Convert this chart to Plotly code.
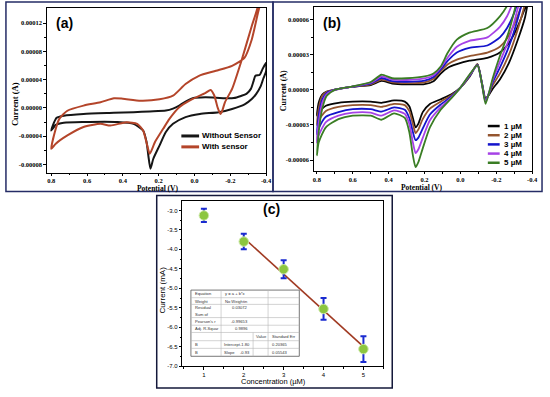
import numpy as np
import plotly.graph_objects as go

W, H = 550, 397
def PX(x): return x / W
def PY(y): return 1 - y / H

SERIF = "Liberation Serif"
SANS = "Liberation Sans"

# ---------------- Panel (a) data (current in µA) ----------------
a_names = ["Without Sensor", "With sensor"]
a_colors = ["#161616", "#B4452A"]

a_wo_fwd_V = [0.80, 0.79, 0.77, 0.73, 0.62, 0.45, 0.34, 0.25, 0.16, 0.12, 0.085, 0.05, 0.01, -0.06,
              -0.12, -0.17, -0.22, -0.26, -0.29, -0.315, -0.33, -0.34, -0.365, -0.38, -0.40]
a_wo_fwd_I = [-32, -24, -14, -11, -8.5, -7, -6, -5, -3.8, -1, 3.3, 9, 13.7, 15,
              14.5, 13.7, 14, 17, 20, 27, 38, 45.5, 47, 55, 64]
a_wo_rev_V = [-0.40, -0.385, -0.37, -0.345, -0.32, -0.28, -0.21, -0.135, -0.03, 0.05, 0.12, 0.16,
              0.195, 0.23, 0.246, 0.258, 0.268, 0.287, 0.34, 0.43, 0.62, 0.73, 0.775, 0.80]
a_wo_rev_I = [52, 42, 31, 20, 12.5, 5, -1.4, -6, -8.5, -13, -22.5, -34,
              -53, -72, -86, -67, -48, -32, -22.5, -20, -20, -21, -24, -32]

a_ws_fwd_V = [0.80, 0.78, 0.755, 0.71, 0.62, 0.525, 0.45, 0.40, 0.30, 0.195, 0.12, 0.05, -0.025,
              -0.12, -0.21, -0.28, -0.32, -0.355, -0.37, -0.40]
a_ws_fwd_I = [-58, -34, -15.5, -4, 3.3, 8, 13.7, 13, 10.3, 12.2, 17.3, 33.8, 45.5,
              52.6, 59.6, 71.4, 97, 135, 150, 180]
a_ws_rev_V = [-0.40, -0.35, -0.32, -0.265, -0.21, -0.17, -0.155, -0.145, -0.13, -0.11, -0.09, -0.06,
              0.01, 0.085, 0.14, 0.175, 0.22, 0.25, 0.264, 0.287, 0.32, 0.38, 0.47, 0.525, 0.62,
              0.71, 0.775, 0.80]
a_ws_rev_I = [200, 140, 116, 69, 27, 8, -4, -8.5, 0, 18, 25.5, 21,
              12.7, 1, -15.5, -29.6, -48, -65, -53, -32, -22.5, -20.2, -25, -22.5, -27,
              -39, -50.7, -58]

# ---------------- Panel (b) data (current in µA) ----------------
b_names = ["1 µM", "2 µM", "3 µM", "4 µM", "5 µM"]
b_colors = ["#050505", "#94552F", "#1414CC", "#A642E6", "#3A7D24"]

b_fwd_V = [0.80, 0.79, 0.77, 0.745, 0.70, 0.60, 0.50, 0.44, 0.38, 0.30, 0.20, 0.15, 0.11, 0.07,
           0.02, -0.05, -0.15, -0.22, -0.26, -0.30, -0.34, -0.40]
b1_fwd_I = [-22, -11, -4, -1.5, 0.3, 2.8, 4.2, 7.7, 5.5, 4.8, 5.0, 7.5, 14, 19, 22, 25, 27.5, 32, 38, 48, 62, 88]
b2_fwd_I = [-30, -16, -5, -1.5, 0.3, 2.8, 4.8, 8.8, 6.5, 5.8, 6.5, 9.5, 16, 22, 26, 29, 32, 37, 44, 56, 72, 100]
b3_fwd_I = [-38, -22, -8, -2.5, 0.2, 2.8, 5.5, 10.2, 7.5, 7, 8, 11, 17.5, 25, 32, 36, 38, 45, 53, 66, 84, 112]
b4_fwd_I = [-45, -28, -11, -3.5, 0.1, 2.9, 6.2, 11.5, 8.8, 8.5, 9.8, 12.5, 19, 28, 37, 42, 45, 54, 63, 78, 96, 125]
b5_fwd_I = [-56, -36, -16, -5, 0, 3, 6.8, 13, 10, 10, 11.5, 14, 20, 32, 43, 49, 53, 63, 72, 88, 108, 138]

b_rev_V = [-0.40, -0.36, -0.32, -0.27, -0.22, -0.18, -0.16, -0.14, -0.12, -0.095, -0.05, 0.0, 0.05,
           0.11, 0.17, 0.21, 0.235, 0.25, 0.265, 0.285, 0.31, 0.37, 0.44, 0.50, 0.60, 0.68, 0.75,
           0.79, 0.80]
b1_rev_I = [95, 62, 43, 23, 9, 1, -4, -7, 6, 22, 11, 2, -3.7, -8, -12, -19, -29, -32, -24, -14, -10,
            -9, -11, -10, -10, -11, -13.5, -19, -22]
b2_rev_I = [108, 74, 52, 30, 14, 4, -3, -8.5, 5.5, 22, 11.5, 2, -4.5, -10, -16, -25, -34, -37, -29,
            -18, -13, -12, -14.5, -13, -13, -14.5, -18, -26, -30]
b3_rev_I = [122, 86, 61, 37, 19, 6.5, -2.5, -9.5, 5.5, 21.5, 12, 2, -5.5, -12.5, -21, -33, -41, -43,
            -36, -24, -17, -15, -18.5, -16.5, -16.5, -19, -23, -33, -38]
b4_rev_I = [136, 98, 70, 43, 24, 8.5, -2, -10.5, 5, 21, 12.5, 2, -6.3, -15, -26, -41, -51, -54,
            -45, -29, -20.5, -17.5, -22, -19.5, -19.5, -22, -27.5, -39, -45]
b5_rev_I = [150, 110, 80, 50, 29, 10, -2, -12, 5, 21, 13, 2, -7, -17, -32, -50, -62, -66, -56, -36,
            -24, -20, -25.5, -22, -22, -25, -32, -45, -56]

# ---------------- Panel (c) data ----------------
c_conc = [1, 2, 3, 4, 5]
c_current = [-3.13, -3.80, -4.51, -5.53, -6.56]
c_err = [0.17, 0.20, 0.23, 0.28, 0.33]
c_fit_idx = [1, 2, 3, 4]
c_table = [
    ("Equation", "y = a + b*x"),
    ("Weight", "No Weightin"),
    ("Residual", ""),
    ("Sum of", "0.03072"),
    ("Pearson's r", "-0.99653"),
    ("Adj. R-Squar", "0.9896"),
]
c_table_params = [("B", "Intercept", "-1.80", "0.20365"), ("B", "Slope", "-0.93", "0.05543")]

uA = 1e-6
fig = go.Figure()

for name, col, fv, fi, rv, ri in [
    (a_names[0], a_colors[0], a_wo_fwd_V, a_wo_fwd_I, a_wo_rev_V, a_wo_rev_I),
    (a_names[1], a_colors[1], a_ws_fwd_V, a_ws_fwd_I, a_ws_rev_V, a_ws_rev_I),
]:
    fig.add_trace(go.Scatter(x=fv + rv, y=[v * uA for v in fi + ri], mode="lines", name=name,
                             line=dict(color=col, width=2, shape="spline", smoothing=0.6),
                             xaxis="x", yaxis="y", showlegend=False))

b_fwd = [b1_fwd_I, b2_fwd_I, b3_fwd_I, b4_fwd_I, b5_fwd_I]
b_rev = [b1_rev_I, b2_rev_I, b3_rev_I, b4_rev_I, b5_rev_I]
for name, col, fi, ri in zip(b_names, b_colors, b_fwd, b_rev):
    fig.add_trace(go.Scatter(x=b_fwd_V + b_rev_V, y=[v * uA for v in fi + ri], mode="lines", name=name,
                             line=dict(color=col, width=1.8, shape="spline", smoothing=0.6),
                             xaxis="x2", yaxis="y2", showlegend=False))

# fit line (c)
fx = np.array([c_conc[i] for i in c_fit_idx], float)
fy = np.array([c_current[i] for i in c_fit_idx], float)
slope, intercept = np.polyfit(fx, fy, 1)
fig.add_trace(go.Scatter(x=[fx.min(), fx.max()], y=[intercept + slope * fx.min(), intercept + slope * fx.max()],
                         mode="lines", line=dict(color="#A03A22", width=1.6), xaxis="x3", yaxis="y3",
                         showlegend=False))
fig.add_trace(go.Scatter(x=c_conc, y=c_current, mode="markers",
                         marker=dict(color="#8CC63F", size=9.5, line=dict(color="#CDE9A8", width=1)),
                         error_y=dict(type="data", array=c_err, color="#1A2BD0", thickness=2, width=3),
                         xaxis="x3", yaxis="y3", showlegend=False))

def tfont(fam, size, bold=True):
    d = dict(family=fam, size=size, color="black")
    if bold:
        d["weight"] = "bold"
    return d

common = dict(showline=True, mirror=True, linecolor="black", linewidth=1, showgrid=False,
              zeroline=False, ticks="outside", ticklen=3, tickcolor="black", tickmode="array")

a_xt = [0.8, 0.6, 0.4, 0.2, 0.0, -0.2, -0.4]
a_yt = [-8e-5, -4e-5, 0, 4e-5, 8e-5, 1.2e-4]
b_yt = [-6e-5, -3e-5, 0, 3e-5, 6e-5]

def fmt_v(v):
    return ("%.1f" % v).replace("-0.0", "0.0")

def fmt_a(v):
    s = "%.5f" % v
    return "0.00000" if abs(v) < 1e-12 else s

minor_x = dict(tickvals=[0.7, 0.5, 0.3, 0.1, -0.1, -0.3], ticks="outside", ticklen=1.5, tickcolor="black")

fig.update_layout(
    width=W, height=H, margin=dict(l=0, r=0, t=0, b=0),
    paper_bgcolor="white", plot_bgcolor="white",
    xaxis=dict(common, domain=[PX(46), PX(268)], anchor="y", range=[0.822, -0.4], ticklen=2,
               tickvals=a_xt, ticktext=[fmt_v(v) for v in a_xt], tickfont=tfont(SERIF, 6.5),
               minor=minor_x),
    yaxis=dict(common, domain=[PY(174), PY(8)], anchor="x", range=[-9.17e-5, 1.416e-4],
               tickvals=a_yt, ticktext=[fmt_a(v) for v in a_yt], tickfont=tfont(SERIF, 6.5),
               minor=dict(tickvals=[-6e-5, -2e-5, 2e-5, 6e-5, 1e-4], ticks="outside", ticklen=2, tickcolor="black")),
    xaxis2=dict(common, domain=[PX(317), PX(538)], anchor="y2", range=[0.814, -0.4], ticklen=2,
                tickvals=a_xt, ticktext=[fmt_v(v) for v in a_xt], tickfont=tfont(SERIF, 6.5),
                minor=minor_x),
    yaxis2=dict(common, domain=[PY(172.7), PY(7)], anchor="x2", range=[-6.97e-5, 7.1e-5],
                tickvals=b_yt, ticktext=[fmt_a(v) for v in b_yt], tickfont=tfont(SERIF, 6.5),
                minor=dict(tickvals=[-4.5e-5, -1.5e-5, 1.5e-5, 4.5e-5], ticks="outside", ticklen=2, tickcolor="black")),
    xaxis3=dict(common, domain=[PX(183), PX(387)], anchor="y3", range=[0.46, 5.5], ticklen=2.5,
                tickvals=c_conc, ticktext=[str(v) for v in c_conc], tickfont=tfont(SANS, 6, False),
                minor=dict(tickvals=[0.5, 1.5, 2.5, 3.5, 4.5, 5.5], ticks="outside", ticklen=1.5, tickcolor="black")),
    yaxis3=dict(common, domain=[PY(369), PY(203)], anchor="x3", range=[-7.0, -2.77], ticklen=2.5,
                tickvals=list(np.arange(-7.0, -2.9, 0.5)),
                ticktext=["%.1f" % v for v in np.arange(-7.0, -2.9, 0.5)], tickfont=tfont(SANS, 6, False),
                minor=dict(tickvals=list(np.arange(-6.75, -2.8, 0.5)), ticks="outside", ticklen=1.5, tickcolor="black")),
)

shapes = []
ann = []
navy = "#252C66"
# panel frames
shapes.append(dict(type="rect", xref="paper", yref="paper", x0=PX(4), x1=PX(275), y0=PY(193), y1=PY(2),
                   line=dict(color=navy, width=1.5)))
shapes.append(dict(type="rect", xref="paper", yref="paper", x0=PX(275), x1=PX(548), y0=PY(193), y1=PY(2),
                   line=dict(color=navy, width=1.5)))
shapes.append(dict(type="rect", xref="paper", yref="paper", x0=PX(157), x1=PX(396), y0=PY(391), y1=PY(197),
                   line=dict(color="#14183A", width=1.5)))

def text(t, x, y, font, xanchor="center", yanchor="middle", angle=0):
    ann.append(dict(text=t, x=PX(x), y=PY(y), xref="paper", yref="paper", showarrow=False,
                    xanchor=xanchor, yanchor=yanchor, textangle=angle, font=font))

# panel labels
text("(a)", 63, 23, tfont(SANS, 14))
text("(b)", 335, 23, tfont(SANS, 14))
text("(c)", 273, 211, tfont(SANS, 14))
# axis titles
text("Current (A)", 13, 105, tfont(SERIF, 8.5), angle=-90)
text("Potential (V)", 158, 189.5, tfont(SERIF, 7.5))
text("Current (A)", 285, 91, tfont(SERIF, 8), angle=-90)
text("Potential (V)", 426, 189, tfont(SERIF, 7.5))
text("Current (mA)", 163, 292, tfont(SANS, 8, False), angle=-90)
text("Concentration (µM)", 275, 384.5, tfont(SANS, 7.5, False))

# legend (a)
for i, (nm, col) in enumerate(zip(a_names, a_colors)):
    yy = 137 + 11 * i
    shapes.append(dict(type="line", xref="paper", yref="paper", x0=PX(182), x1=PX(200), y0=PY(yy), y1=PY(yy),
                       line=dict(color=col, width=3)))
    text(nm, 201, yy, tfont(SANS, 8), xanchor="left")
# legend (b)
for i, (nm, col) in enumerate(zip(b_names, b_colors)):
    yy = 127 + 9.25 * i
    shapes.append(dict(type="line", xref="paper", yref="paper", x0=PX(493), x1=PX(505), y0=PY(yy), y1=PY(yy),
                       line=dict(color=col, width=2.5)))
    text(nm, 507, yy, tfont(SANS, 8), xanchor="left")

# fit table (c)
tl, tr, tt, tb = 191.7, 301.7, 292.3, 359
rows_y = [292.3, 300, 306.7, 320, 327.7, 335, 343.3, 351, 359]
shapes.append(dict(type="rect", xref="paper", yref="paper", x0=PX(tl), x1=PX(tr), y0=PY(tb), y1=PY(tt),
                   fillcolor="white", line=dict(color="#555555", width=0.8)))
for ry in rows_y[1:-1]:
    shapes.append(dict(type="line", xref="paper", yref="paper", x0=PX(tl), x1=PX(tr), y0=PY(ry), y1=PY(ry),
                       line=dict(color="#B5B5B5", width=0.6)))
for cx in [222.3, 270]:
    shapes.append(dict(type="line", xref="paper", yref="paper", x0=PX(cx), x1=PX(cx), y0=PY(tb), y1=PY(tt),
                       line=dict(color="#B5B5B5", width=0.6)))
shapes.append(dict(type="line", xref="paper", yref="paper", x0=PX(254.8), x1=PX(254.8), y0=PY(tb), y1=PY(335),
                   line=dict(color="#B5B5B5", width=0.6)))
tf = dict(family=SANS, size=4.1, color="#333333")
top_y = [296.2, 303.3, 310, 316.5, 323.8, 331.3]
for (lab, val), yy in zip(c_table, top_y):
    text(lab, 193.5, yy, tf, xanchor="left")
    if val:
        if lab in ("Equation", "Weight"):
            text(val, 224, yy, tf, xanchor="left")
        else:
            text(val, 252, yy if lab != "Sum of" else 310, tf, xanchor="right")
text("Value", 256, 339.2, tf, xanchor="left")
text("Standard Err", 271.5, 339.2, tf, xanchor="left")
for (b, p, v, e), yy in zip(c_table_params, [347.2, 355]):
    text(b, 193.5, yy, tf, xanchor="left")
    text(p, 223.5, yy, tf, xanchor="left")
    text(v, 254, yy, tf, xanchor="right")
    text(e, 272, yy, tf, xanchor="left")

fig.update_layout(shapes=shapes, annotations=ann)
fig.write_html("out.html", config={"displayModeBar": False},
               post_script="document.body.style.margin='0';document.body.style.overflow='hidden';")
